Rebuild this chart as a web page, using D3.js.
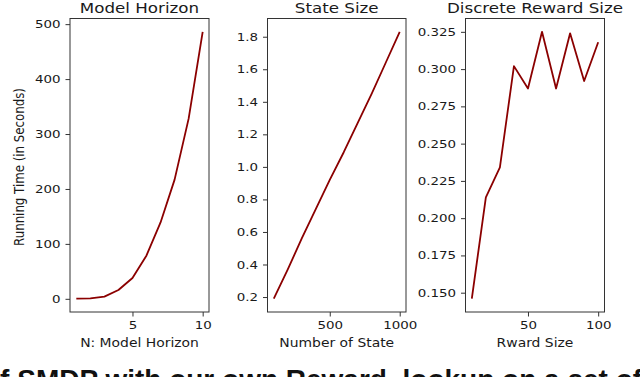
<!DOCTYPE html>
<html>
<head>
<meta charset="utf-8">
<script src="https://cdn.jsdelivr.net/npm/d3@7"></script>
<style>
  body { margin: 0; background: #fff; }
  svg { display: block; font-family: "DejaVu Sans", sans-serif; }
</style>
</head>
<body>
<div id="chart"></div>
<script>
// panel 1: model horizon
const horizonN = [1, 2, 3, 4, 5, 6, 7, 8, 9, 10];
const horizonTime = [0.3, 1, 4, 16, 38, 79, 139, 217, 328, 486];
const horizonXTicks = [5, 10];
const horizonYTicks = [0, 100, 200, 300, 400, 500];

// panel 2: state size
const stateSizes = [100, 200, 300, 400, 500, 600, 700, 800, 900, 1000];
const stateTime = [0.19, 0.37, 0.56, 0.74, 0.92, 1.09, 1.27, 1.45, 1.64, 1.83];
const stateXTicks = [500, 1000];
const stateYTicks = [0.2, 0.4, 0.6, 0.8, 1.0, 1.2, 1.4, 1.6, 1.8];

// panel 3: discrete reward size
const rewardSizes = [10, 20, 30, 40, 50, 60, 70, 80, 90, 100];
const rewardTime = [0.146, 0.214, 0.234, 0.302, 0.287, 0.325, 0.287, 0.324, 0.292, 0.318];
const rewardXTicks = [50, 100];
const rewardYTicks = [0.150, 0.175, 0.200, 0.225, 0.250, 0.275, 0.300, 0.325];

const titles = ["Model Horizon", "State Size", "Discrete Reward Size"];
const xLabels = ["N: Model Horizon", "Number of State", "Rward Size"];
const yLabel = "Running Time (in Seconds)";
// caption line below the figure, only its top shows
const caption = "of SMDP with our own Reward, lookup on a set of methods l";

const width = 640, height = 377;
const stretch = 1.22;           // source image is stretched sideways
const plotTop = 18.5, plotBottom = 312;

const panels = [
    { left: 70, right: 209, xs: horizonN, ys: horizonTime, xTicks: horizonXTicks, yTicks: horizonYTicks, fmt: d3.format("d") },
    { left: 267.5, right: 406, xs: stateSizes, ys: stateTime, xTicks: stateXTicks, yTicks: stateYTicks, fmt: d3.format(".1f") },
    { left: 465.5, right: 604.5, xs: rewardSizes, ys: rewardTime, xTicks: rewardXTicks, yTicks: rewardYTicks, fmt: d3.format(".3f") }
];

const svg = d3.select("#chart")
    .append("svg")
    .attr("width", width)
    .attr("height", height);

// matplotlib style 5% margins
function padded(values) {
    const [lo, hi] = d3.extent(values);
    const m = (hi - lo) * 0.05;
    return [lo - m, hi + m];
}

panels.forEach((p, i) => {
    const x = d3.scaleLinear().domain(padded(p.xs)).range([p.left, p.right]);
    const y = d3.scaleLinear().domain(padded(p.ys)).range([plotBottom, plotTop]);

    const g = svg.append("g");

    const yAxis = g.append("g")
        .attr("transform", `translate(${p.left},0)`)
        .call(d3.axisLeft(y).tickValues(p.yTicks).tickFormat(p.fmt).tickSize(4.5).tickPadding(5));
    const xAxis = g.append("g")
        .attr("transform", `translate(0,${plotBottom})`)
        .call(d3.axisBottom(x).tickValues(p.xTicks).tickFormat(d3.format("d")).tickSize(4.5).tickPadding(5));

    [yAxis, xAxis].forEach(ax => {
        ax.select(".domain").remove();
        ax.selectAll(".tick line").attr("stroke", "#333").attr("stroke-width", 1);
        ax.selectAll("text")
            .attr("fill", "#1a1a1a")
            .style("font-size", "11px")
            .style("font-family", "DejaVu Sans");
    });
    yAxis.selectAll("text")
        .attr("x", -9.5 / stretch)
        .attr("transform", `scale(${stretch},1)`);
    xAxis.selectAll("text")
        .attr("transform", `scale(${stretch},1)`);

    g.append("rect")
        .attr("x", p.left)
        .attr("y", plotTop)
        .attr("width", p.right - p.left)
        .attr("height", plotBottom - plotTop)
        .attr("fill", "none")
        .attr("stroke", "#333")
        .attr("stroke-width", 1);

    const line = d3.line()
        .x((d, j) => x(p.xs[j]))
        .y(d => y(d));

    g.append("path")
        .datum(p.ys)
        .attr("d", line)
        .attr("fill", "none")
        .attr("stroke", "#8b0000")
        .attr("stroke-width", 1.8)
        .attr("stroke-linejoin", "round");

    const cx = (p.left + p.right) / 2;
    g.append("text")
        .attr("transform", `translate(${cx},12.5) scale(${stretch},1)`)
        .attr("text-anchor", "middle")
        .style("font-size", "13.7px")
        .attr("fill", "#1a1a1a")
        .text(titles[i]);

    g.append("text")
        .attr("transform", `translate(${cx},347) scale(${stretch},1)`)
        .attr("text-anchor", "middle")
        .style("font-size", "11.4px")
        .attr("fill", "#1a1a1a")
        .text(xLabels[i]);
});

svg.append("text")
    .attr("transform", `translate(24,167) rotate(-90) scale(1,${stretch})`)
    .attr("text-anchor", "middle")
    .style("font-size", "11.8px")
    .attr("fill", "#1a1a1a")
    .text(yLabel);

svg.append("text")
    .attr("x", -17)
    .attr("y", 389)
    .style("font-size", "28px")
    .style("font-weight", "bold")
    .style("font-family", "Liberation Sans")
    .attr("fill", "#111")
    .text(caption);
</script>
</body>
</html>
